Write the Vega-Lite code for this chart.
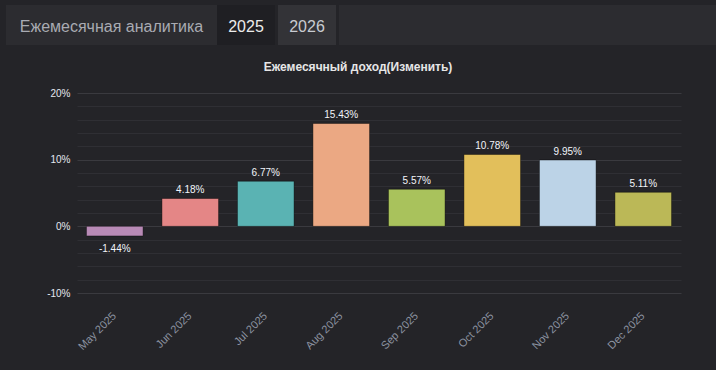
{
  "$schema": "https://vega.github.io/schema/vega-lite/v6.json",
  "background": "#242428",
  "padding": {"left": 6, "top": 5, "right": 0, "bottom": 24},
  "config": {
    "font": "Liberation Sans",
    "view": {"stroke": null},
    "locale": {"number": {"decimal": ".", "thousands": ",", "grouping": [3], "currency": ["$", ""], "minus": "-"}}
  },
  "spacing": 16,
  "vconcat": [
    {
      "spacing": 0,
      "hconcat": [
        {
          "width": 211, "height": 40,
          "view": {"fill": "#2c2c30", "stroke": null},
          "data": {"values": [{"label": "Ежемесячная аналитика"}]},
          "mark": {"type": "text", "fontSize": 16, "color": "#a9abb2", "dy": 2},
          "encoding": {"text": {"field": "label"}}
        },
        {
          "spacing": 3,
          "hconcat": [
            {
              "width": 58, "height": 40,
              "view": {"fill": "#1f1f23", "stroke": null},
              "data": {"values": [{"label": "2025"}]},
              "mark": {"type": "text", "fontSize": 16, "color": "#ececec", "dy": 2},
              "encoding": {"text": {"field": "label"}}
            },
            {
              "width": 58, "height": 40,
              "view": {"fill": "#333337", "stroke": null},
              "data": {"values": [{"label": "2026"}]},
              "mark": {"type": "text", "fontSize": 16, "color": "#c8cbd1", "dy": 2},
              "encoding": {"text": {"field": "label"}}
            },
            {
              "width": 377, "height": 40,
              "view": {"fill": "#2c2c30", "stroke": null},
              "data": {"values": [{"label": ""}]},
              "mark": {"type": "text"},
              "encoding": {"text": {"field": "label"}}
            }
          ]
        }
      ]
    },
    {
      "spacing": 0,
      "bounds": "flush",
      "hconcat": [
        {
          "width": 71, "height": 200,
          "data": {"values": [{"label": ""}]},
          "mark": {"type": "text"},
          "encoding": {"text": {"field": "label"}}
        },
        {
          "width": 604,
          "height": 200,
          "title": {
            "text": "Ежемесячный доход(Изменить)",
            "fontSize": 12,
            "fontWeight": "bold",
            "color": "#e6e6e6",
            "anchor": "middle",
            "dx": -21,
            "offset": 14
          },
          "data": {
            "values": [
              {"month": "May 2025", "value": -0.0144},
              {"month": "Jun 2025", "value": 0.0418},
              {"month": "Jul 2025", "value": 0.0677},
              {"month": "Aug 2025", "value": 0.1543},
              {"month": "Sep 2025", "value": 0.0557},
              {"month": "Oct 2025", "value": 0.1078},
              {"month": "Nov 2025", "value": 0.0995},
              {"month": "Dec 2025", "value": 0.0511}
            ]
          },
          "encoding": {
            "x": {
              "field": "month",
              "type": "nominal",
              "sort": null,
              "scale": {"paddingInner": 0.25, "paddingOuter": 0.125},
              "axis": {
                "title": null,
                "domain": false,
                "ticks": false,
                "labelAngle": -45,
                "labelAlign": "right",
                "labelBaseline": "middle",
                "labelPadding": 21,
                "labelFontSize": 11,
                "labelColor": "#8c93a1"
              }
            },
            "y": {
              "field": "value",
              "type": "quantitative",
              "scale": {"domain": [-0.1, 0.2], "nice": false, "zero": false},
              "axis": {
                "title": null,
                "domain": false,
                "ticks": false,
                "values": [-0.1, -0.08, -0.06, -0.04, -0.02, 0, 0.02, 0.04, 0.06, 0.08, 0.1, 0.12, 0.14, 0.16, 0.18, 0.2],
                "labelExpr": "abs(datum.value * 10 - round(datum.value * 10)) < 0.000001 ? format(datum.value, '.0%') : ''",
                "labelFontSize": 10,
                "labelColor": "#e4e8f0",
                "labelPadding": 7,
                "gridColor": {
                  "condition": {"test": "abs(datum.value * 10 - round(datum.value * 10)) < 0.000001", "value": "#3a3a3f"},
                  "value": "#2f2f34"
                }
              }
            }
          },
          "layer": [
            {
              "mark": {"type": "bar", "stroke": "#000000", "strokeOpacity": 0.4, "strokeWidth": 1},
              "encoding": {
                "color": {
                  "field": "month",
                  "type": "nominal",
                  "sort": null,
                  "scale": {
                    "domain": ["May 2025", "Jun 2025", "Jul 2025", "Aug 2025", "Sep 2025", "Oct 2025", "Nov 2025", "Dec 2025"],
                    "range": ["#b88ab6", "#e48686", "#5ab3b3", "#eba883", "#a9c25c", "#e2bf5b", "#bcd3e7", "#bbb857"]
                  },
                  "legend": null
                }
              }
            },
            {
              "transform": [{"filter": "datum.value >= 0"}],
              "mark": {"type": "text", "baseline": "middle", "dy": -8, "fontSize": 10, "color": "#f2f5fa"},
              "encoding": {"text": {"field": "value", "type": "quantitative", "format": ".2%"}}
            },
            {
              "transform": [{"filter": "datum.value < 0"}],
              "mark": {"type": "text", "baseline": "middle", "dy": 13, "fontSize": 10, "color": "#f2f5fa"},
              "encoding": {"text": {"field": "value", "type": "quantitative", "format": ".2%"}}
            }
          ]
        }
      ]
    }
  ]
}
